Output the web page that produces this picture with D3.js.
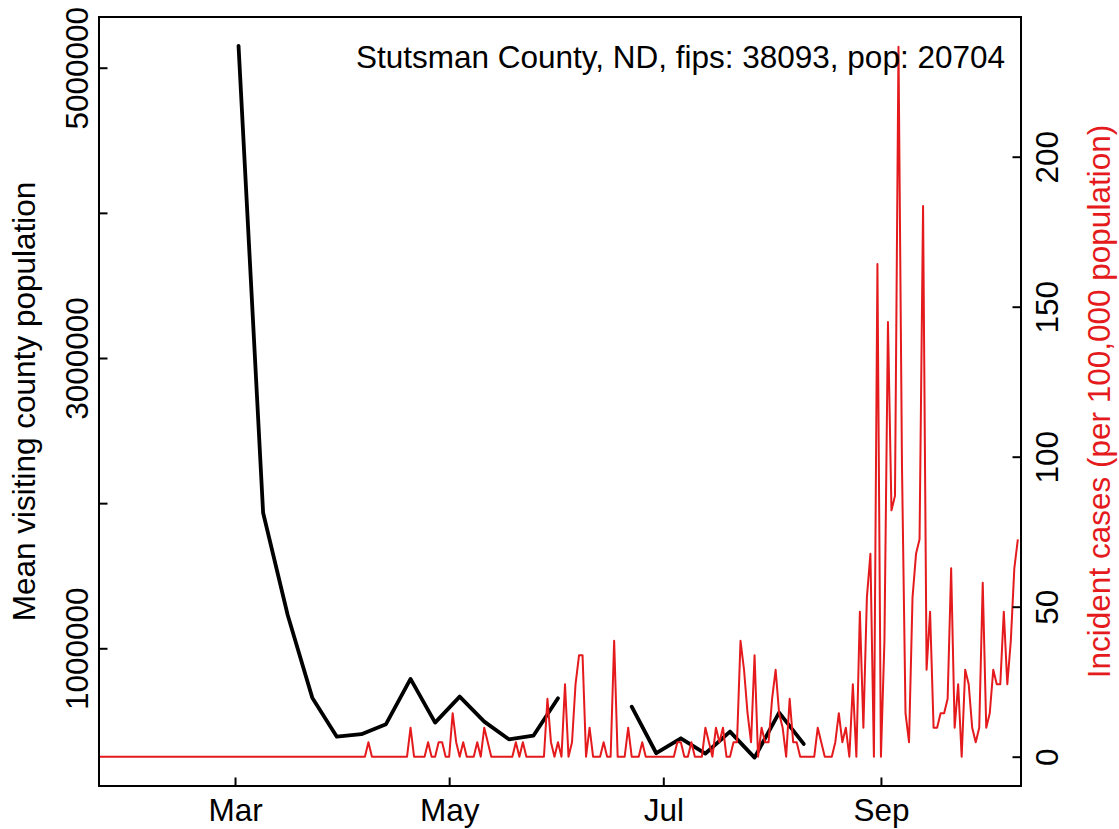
<!DOCTYPE html>
<html><head><meta charset="utf-8">
<script src="https://cdn.jsdelivr.net/npm/d3@7"></script>
<style>
body{margin:0;background:#fff}
svg text{font-family:"Liberation Sans",Arial,Helvetica,sans-serif}
</style>
</head><body>
<svg id="chart" width="1119" height="829"></svg>
<script>
// ---------------- data ----------------
const titleText = "Stutsman County, ND, fips: 38093, pop: 20704";
const leftAxisTitle = "Mean visiting county population";
const rightAxisTitle = "Incident cases (per 100,000 population)";

// weekly mean visiting county population (null = missing week)
const mobilityDates = ["2020-03-02","2020-03-09","2020-03-16","2020-03-23","2020-03-30","2020-04-06",
  "2020-04-13","2020-04-20","2020-04-27","2020-05-04","2020-05-11","2020-05-18","2020-05-25","2020-06-01",
  "2020-06-08","2020-06-15","2020-06-22","2020-06-29","2020-07-06","2020-07-13","2020-07-20","2020-07-27",
  "2020-08-03","2020-08-10"];
const mobilityValues = [5150000,1934000,1229000,660000,391000,408000,
  477000,789000,488000,667000,495000,373000,398000,656000,
  null,null,598000,277000,380000,275000,426000,247000,
  557000,341000];

// daily incident cases per 100,000, starting at caseStartDate
const caseStartDate = "2020-01-22";
const incidence = [
  0,0,0,0,0,0,0,0,0,0, 0,0,0,0,0,0,0,0,0,0, 0,0,0,0,0,0,0,0,0,0,
  0,0,0,0,0,0,0,0,0,0, 0,0,0,0,0,0,0,0,0,0, 0,0,0,0,0,0,0,0,0,0,
  0,0,0,0,0,0,0,0,0,0, 0,0,0,0,0,0,0,
  4.83,0,0,0,0,0,0,0,0,0,0,0,
  9.66,0,0,0,0,4.83,0,0,4.83,4.83,
  0,0,14.49,4.83,0,4.83,0,0,0,4.83,
  0,9.66,4.83,0,0,0,0,0,0,0,
  4.83,0,4.83,0,0,0,0,0,0,19.32,
  4.83,0,4.83,0,24.15,0,4.83,24.15,33.81,33.81,
  0,9.66,0,0,0,4.83,0,0,38.64,0,
  0,0,9.66,0,0,0,4.83,0,0,0,
  0,0,0,0,0,0,4.83,4.83,0,0,
  4.83,0,0,0,9.66,4.83,0,9.66,4.83,9.66,
  0,0,4.83,4.83,38.64,28.98,14.49,4.83,33.81,0,
  9.66,4.83,4.83,19.32,28.98,14.49,9.66,0,19.32,4.83,
  4.83,0,0,0,0,0,9.66,4.83,0,0,
  0,4.83,14.49,4.83,9.66,0,24.15,0,48.30,9.66,
  53.13,67.62,0,164.22,0,38.64,144.90,82.11,86.94,236.67,
  96.60,14.49,4.83,53.13,67.62,72.45,183.54,28.98,48.30,9.66,
  9.66,14.49,14.49,19.32,62.79,9.66,24.15,0,28.98,24.15,
  9.66,4.83,9.66,57.96,9.66,14.49,28.98,24.15,24.15,48.30,
  24.15,38.64,62.79,72.45
];

const xTickDates = ["2020-03-01","2020-05-01","2020-07-01","2020-09-01"];
const xTickLabels = ["Mar","May","Jul","Sep"];
const leftTicks = [1000000,2000000,3000000,4000000,5000000];
const leftTickLabels = ["1000000","","3000000","","5000000"];
const rightTicks = [0,50,100,150,200];

// ---------------- layout ----------------
const plot = {left: 99, right: 1021, top: 17, bottom: 786};
const xDomain = ["2020-01-22T06:00","2020-10-10T21:36"];
const leftDomain = [51300, 5349400];
const rightDomain = [-9.77, 246.57];
const RED = "#e41a1c";
const FS = 31.5;

const parseDay = d3.timeParse("%Y-%m-%d");
const parseDT = d3.timeParse("%Y-%m-%dT%H:%M");

const svg = d3.select("#chart");
const x = d3.scaleTime().domain(xDomain.map(parseDT)).range([plot.left, plot.right]);
const yL = d3.scaleLinear().domain(leftDomain).range([plot.bottom, plot.top]);
const yR = d3.scaleLinear().domain(rightDomain).range([plot.bottom, plot.top]);

svg.append("defs").append("clipPath").attr("id","clip")
  .append("rect").attr("x",plot.left).attr("y",plot.top)
  .attr("width",plot.right-plot.left).attr("height",plot.bottom-plot.top);

// black mobility line
const mob = mobilityDates.map((d,i)=>({date:parseDay(d), v:mobilityValues[i]}));
svg.append("path").datum(mob)
  .attr("clip-path","url(#clip)")
  .attr("fill","none").attr("stroke","#000").attr("stroke-width",3.8)
  .attr("stroke-linejoin","round").attr("stroke-linecap","round")
  .attr("d", d3.line().defined(d=>d.v!=null).x(d=>x(d.date)).y(d=>yL(d.v)));

// red incidence line
const start = parseDay(caseStartDate);
const inc = incidence.map((v,i)=>({date:d3.timeDay.offset(start,i), v}));
svg.append("path").datum(inc)
  .attr("clip-path","url(#clip)")
  .attr("fill","none").attr("stroke",RED).attr("stroke-width",2)
  .attr("stroke-linejoin","round")
  .attr("d", d3.line().x(d=>x(d.date)).y(d=>yR(d.v)));

// box
svg.append("rect").attr("x",plot.left).attr("y",plot.top)
  .attr("width",plot.right-plot.left).attr("height",plot.bottom-plot.top)
  .attr("fill","none").attr("stroke","#000").attr("stroke-width",2);

// x axis
const xAxis = d3.axisBottom(x).tickValues(xTickDates.map(parseDay))
  .tickFormat((d,i)=>xTickLabels[i]).tickSize(-8.5).tickPadding(0);
const gx = svg.append("g").attr("transform",`translate(0,${plot.bottom})`).call(xAxis);
gx.select(".domain").remove();
gx.selectAll(".tick line").attr("stroke","#000").attr("stroke-width",2);
gx.selectAll(".tick text").attr("y",35).attr("dy",0).attr("font-size",FS).attr("fill","#000");

// left axis
const lAxis = d3.axisLeft(yL).tickValues(leftTicks)
  .tickFormat((d,i)=>leftTickLabels[i]).tickSize(-8.5);
const gl = svg.append("g").attr("transform",`translate(${plot.left},0)`).call(lAxis);
gl.select(".domain").remove();
gl.selectAll(".tick line").attr("stroke","#000").attr("stroke-width",2);
gl.selectAll(".tick text").attr("x",0).attr("dy",0)
  .attr("transform","translate(-11,0) rotate(-90)")
  .attr("text-anchor","middle").attr("font-size",FS).attr("fill","#000");

// right axis
const rAxis = d3.axisRight(yR).tickValues(rightTicks).tickSize(-8.5);
const gr = svg.append("g").attr("transform",`translate(${plot.right},0)`).call(rAxis);
gr.select(".domain").remove();
gr.selectAll(".tick line").attr("stroke","#000").attr("stroke-width",2);
gr.selectAll(".tick text").attr("x",0).attr("dy",0)
  .attr("transform","translate(37,0) rotate(-90)")
  .attr("text-anchor","middle").attr("font-size",FS).attr("fill","#000");

// axis titles
const midY = (plot.top+plot.bottom)/2;
svg.append("text").attr("transform",`translate(35,${midY}) rotate(-90)`)
  .attr("text-anchor","middle").attr("font-size",FS).attr("fill","#000").text(leftAxisTitle);
svg.append("text").attr("transform",`translate(1110,${midY}) rotate(-90)`)
  .attr("text-anchor","middle").attr("font-size",FS).attr("fill",RED).text(rightAxisTitle);

// title inside plot
svg.append("text").attr("x",1005).attr("y",68).attr("text-anchor","end")
  .attr("font-size",FS).attr("fill","#000").text(titleText);
</script>
</body></html>
